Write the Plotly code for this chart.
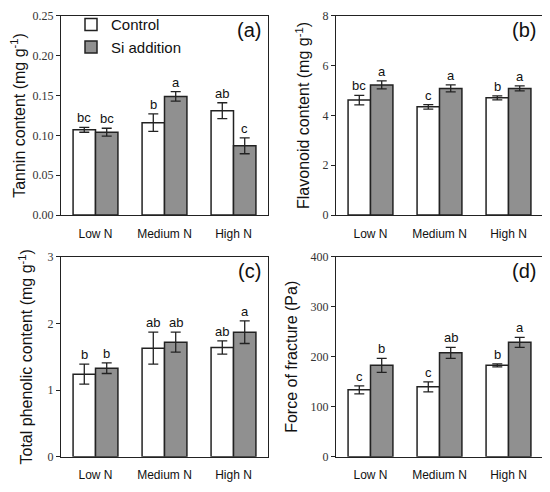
import plotly.graph_objects as go
from plotly.subplots import make_subplots

# categories and treatments
nitrogen_levels = ["Low N", "Medium N", "High N"]
treatments = ["Control", "Si addition"]

# (a) tannin content
tannin_control = [0.107, 0.116, 0.131]
tannin_control_err = [0.003, 0.011, 0.010]
tannin_si = [0.104, 0.149, 0.087]
tannin_si_err = [0.005, 0.006, 0.010]
tannin_letters_control = ["bc", "b", "ab"]
tannin_letters_si = ["bc", "a", "c"]

# (b) flavonoid content
flav_control = [4.62, 4.35, 4.71]
flav_control_err = [0.19, 0.09, 0.08]
flav_si = [5.23, 5.09, 5.09]
flav_si_err = [0.16, 0.14, 0.10]
flav_letters_control = ["bc", "c", "b"]
flav_letters_si = ["a", "a", "a"]

# (c) total phenolic content
phen_control = [1.24, 1.63, 1.64]
phen_control_err = [0.15, 0.24, 0.10]
phen_si = [1.33, 1.72, 1.87]
phen_si_err = [0.08, 0.15, 0.17]
phen_letters_control = ["b", "ab", "ab"]
phen_letters_si = ["b", "ab", "a"]

# (d) force of fracture
force_control = [134, 140, 183]
force_control_err = [8, 10, 3]
force_si = [183, 208, 229]
force_si_err = [14, 11, 10]
force_letters_control = ["c", "c", "b"]
force_letters_si = ["b", "ab", "a"]

panels = [
    dict(ctrl=tannin_control, ctrl_err=tannin_control_err, si=tannin_si, si_err=tannin_si_err,
         lc=tannin_letters_control, ls=tannin_letters_si, tag="(a)",
         title="Tannin content (mg g<sup>-1</sup>)", yrange=[0, 0.25], dtick=0.05, fmt=".2f", standoff=10),
    dict(ctrl=flav_control, ctrl_err=flav_control_err, si=flav_si, si_err=flav_si_err,
         lc=flav_letters_control, ls=flav_letters_si, tag="(b)",
         title="Flavonoid content (mg g<sup>-1</sup>)", yrange=[0, 8], dtick=2, fmt="d", standoff=8),
    dict(ctrl=phen_control, ctrl_err=phen_control_err, si=phen_si, si_err=phen_si_err,
         lc=phen_letters_control, ls=phen_letters_si, tag="(c)",
         title="Total phenolic content (mg g<sup>-1</sup>)", yrange=[0, 3], dtick=1, fmt="d", standoff=10),
    dict(ctrl=force_control, ctrl_err=force_control_err, si=force_si, si_err=force_si_err,
         lc=force_letters_control, ls=force_letters_si, tag="(d)",
         title="Force of fracture (Pa)", yrange=[0, 400], dtick=100, fmt="d", standoff=8),
]

# the page body adds an 8px margin, so the figure is drawn 8px smaller and
# all reference pixel positions are shifted by that offset
OFF = 8
W, H = 550 - OFF, 492 - OFF


def px_x(v):
    return (v - OFF) / W


def px_y(v):
    return 1 - (v - OFF) / H


x_domains = [[px_x(61), px_x(268)], [px_x(336), px_x(543)]]
y_domains = [[px_y(214), px_y(9)], [px_y(463), px_y(257)]]
BARGAP = 0.35

SANS = "Liberation Sans, Arial"
SERIF = "Liberation Serif, Times New Roman, serif"
GREY = "#909090"
LINE = "#222222"

fig = make_subplots(rows=2, cols=2)

for idx, p in enumerate(panels):
    row, col = idx // 2 + 1, idx % 2 + 1
    fig.add_trace(go.Bar(
        x=nitrogen_levels, y=p["ctrl"], name=treatments[0],
        marker=dict(color="white", line=dict(color=LINE, width=1.5)),
        error_y=dict(type="data", array=p["ctrl_err"], color=LINE, thickness=1.3, width=5),
        showlegend=(idx == 0),
    ), row=row, col=col)
    fig.add_trace(go.Bar(
        x=nitrogen_levels, y=p["si"], name=treatments[1],
        marker=dict(color=GREY, line=dict(color=LINE, width=1.5)),
        error_y=dict(type="data", array=p["si_err"], color=LINE, thickness=1.3, width=5),
        showlegend=(idx == 0),
    ), row=row, col=col)

    suffix = "" if idx == 0 else str(idx + 1)
    xd = x_domains[col - 1]
    yd = y_domains[row - 1]
    fig.update_layout({
        "xaxis" + suffix: dict(domain=xd, showline=True, mirror=True, linecolor=LINE, linewidth=1.2,
                               ticks="", ticklabelstandoff=7,
                               tickfont=dict(family=SANS, size=12, color="#111"),
                               showgrid=False),
        "yaxis" + suffix: dict(domain=yd, range=p["yrange"], dtick=p["dtick"], tickformat=p["fmt"],
                               showline=True, mirror=True, linecolor=LINE, linewidth=1.2,
                               ticks="outside", ticklen=4, tickcolor=LINE,
                               tickfont=dict(family=SERIF, size=12, color="#333"),
                               showgrid=False, zeroline=False,
                               title=dict(text=p["title"], standoff=p["standoff"],
                                          font=dict(family=SANS, size=16, color="#111"))),
    })

    # significance letters above the error bars
    axis_px = (xd[1] - xd[0]) * W
    bar_px = axis_px / len(nitrogen_levels) * (1 - BARGAP) / 2
    xref = "x" + suffix
    yref = "y" + suffix
    for i, cat in enumerate(nitrogen_levels):
        for vals, errs, letters, sign in [(p["ctrl"], p["ctrl_err"], p["lc"], -1),
                                          (p["si"], p["si_err"], p["ls"], 1)]:
            fig.add_annotation(x=cat, y=vals[i] + errs[i], xref=xref, yref=yref,
                               text=letters[i], showarrow=False, xshift=sign * bar_px / 2,
                               yanchor="bottom", yshift=0,
                               font=dict(family=SANS, size=13, color="#111"))

    # panel tag
    fig.add_annotation(x=xd[1] - 5 / W, y=yd[1] - 1 / H, xref="paper", yref="paper",
                       text=p["tag"], showarrow=False, xanchor="right", yanchor="top",
                       font=dict(family=SANS, size=20, color="#111"))

fig.update_layout(
    width=W, height=H,
    margin=dict(l=0, r=0, t=0, b=0),
    paper_bgcolor="white", plot_bgcolor="white",
    barmode="group", bargap=BARGAP, bargroupgap=0,
    legend=dict(x=px_x(71), y=px_y(1), xanchor="left", yanchor="top",
                bgcolor="rgba(0,0,0,0)", font=dict(family=SANS, size=15, color="#111"),
                tracegroupgap=0),
)

fig.write_html("out.html")
